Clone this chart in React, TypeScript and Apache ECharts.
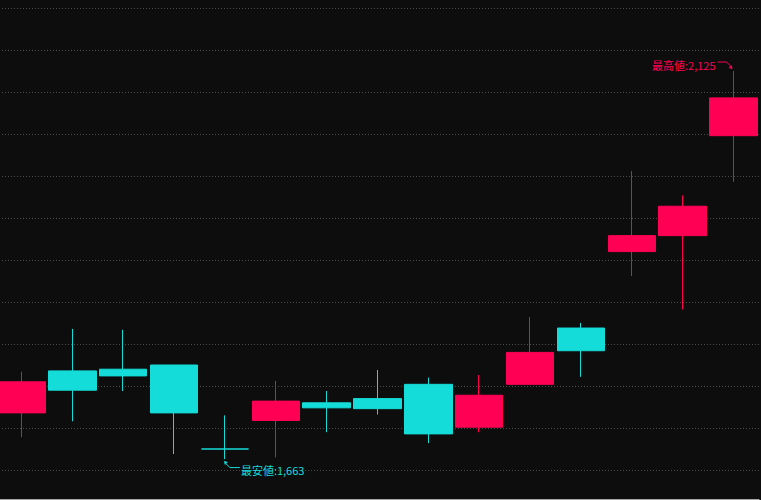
import { useEffect, useRef } from 'react';
import * as echarts from 'echarts';

// Sessions (category axis, labels hidden in the reference)
const categories: string[] = ['1', '2', '3', '4', '5', '6', '7', '8', '9', '10', '11', '12', '13', '14', '15'];

// OHLC values
const opens: number[] = [1718, 1768, 1770, 1775, 1675, 1709, 1730, 1735, 1752, 1701, 1752, 1819, 1910, 1929, 2048];
const closes: number[] = [1755, 1745, 1762, 1718, 1675, 1732, 1724, 1723, 1693, 1739, 1790, 1792, 1929, 1964, 2093];
const lows: number[] = [1689, 1708, 1744, 1669, 1663, 1665, 1695, 1716, 1682, 1695, 1752, 1761, 1881, 1841, 1993];
const highs: number[] = [1767, 1818, 1817, 1775, 1715, 1756, 1744, 1769, 1760, 1763, 1832, 1825, 2006, 1977, 2125];

// Price gridlines
const yMin = 1650;
const yMax = 2200;
const yInterval = 50;

const highPrefix = '最高値:';
const lowPrefix = '最安値:';

const UP = '#ff0055';
const DOWN = '#14dcd8';
const BG = '#0d0d0d';
const FONT = '11px "Noto Sans CJK JP", "Noto Sans", sans-serif';

export default function App() {
  const ref = useRef<HTMLDivElement>(null);

  useEffect(() => {
    if (!ref.current) return;
    const chart = echarts.init(ref.current, undefined, { renderer: 'svg' });
    const data = categories.map((_, i) => [opens[i], closes[i], lows[i], highs[i]]);

    chart.setOption({
      animation: false,
      backgroundColor: BG,
      grid: { left: 0, right: 2, top: 8, bottom: 30 },
      xAxis: {
        type: 'category',
        data: categories,
        boundaryGap: true,
        offset: 29,
        axisLine: { show: true, lineStyle: { color: '#a8a8a8', width: 1 } },
        axisTick: { show: false },
        axisLabel: { show: false },
        splitLine: { show: false },
      },
      yAxis: {
        type: 'value',
        min: yMin,
        max: yMax,
        interval: yInterval,
        axisLine: { show: false },
        axisTick: { show: false },
        axisLabel: { show: false },
        splitLine: { show: true, lineStyle: { color: '#4a4a4a', width: 1, type: [1, 2] } },
      },
      series: [
        {
          type: 'candlestick',
          data,
          barWidth: 48,
          itemStyle: {
            color: UP,
            color0: DOWN,
            borderColor: UP,
            borderColor0: DOWN,
            borderWidth: 1,
          },
        },
      ],
    });

    const maxVal = Math.max(...highs);
    const maxIdx = highs.indexOf(maxVal);
    const minVal = Math.min(...lows);
    const minIdx = lows.indexOf(minVal);
    const P = chart.convertToPixel({ gridIndex: 0 }, [maxIdx, maxVal]) as number[];
    const Q = chart.convertToPixel({ gridIndex: 0 }, [minIdx, minVal]) as number[];
    const fmt = (v: number) => v.toLocaleString('en-US');

    const Tmax = [P[0] - 1, P[1] - 2];
    const Tmin = [Q[0] - 1, Q[1] + 2];

    chart.setOption({
      graphic: [
        {
          type: 'text',
          x: P[0] - 18,
          y: P[1] - 6,
          style: { text: highPrefix + fmt(maxVal), fill: UP, font: FONT, align: 'right', verticalAlign: 'middle' },
        },
        {
          type: 'polyline',
          shape: { points: [[P[0] - 16, P[1] - 9], [P[0] - 7, P[1] - 9], [P[0] - 2.5, P[1] - 4.5]] },
          style: { stroke: UP, lineWidth: 1, fill: 'none' },
        },
        {
          type: 'polygon',
          shape: { points: [[Tmax[0], Tmax[1]], [Tmax[0] - 4, Tmax[1] - 1], [Tmax[0] - 1, Tmax[1] - 4]] },
          style: { fill: UP },
        },
        {
          type: 'text',
          x: Q[0] + 16,
          y: Q[1] + 10.5,
          style: { text: lowPrefix + fmt(minVal), fill: DOWN, font: FONT, align: 'left', verticalAlign: 'middle' },
        },
        {
          type: 'polyline',
          shape: { points: [[Q[0] + 1, Q[1] + 4.5], [Q[0] + 5, Q[1] + 8.5], [Q[0] + 15, Q[1] + 8.5]] },
          style: { stroke: DOWN, lineWidth: 1, fill: 'none' },
        },
        {
          type: 'polygon',
          shape: { points: [[Tmin[0], Tmin[1]], [Tmin[0] + 4, Tmin[1] + 1], [Tmin[0] + 1, Tmin[1] + 4]] },
          style: { fill: DOWN },
        },
      ],
    });

    return () => chart.dispose();
  }, []);

  return (
    <div style={{ position: 'fixed', left: 0, top: 0, width: 761, height: 500, background: BG, overflow: 'hidden' }}>
      <div
        ref={ref}
        style={{ position: 'absolute', left: -4, top: 0, width: 765, height: 500 }}
      />
    </div>
  );
}
